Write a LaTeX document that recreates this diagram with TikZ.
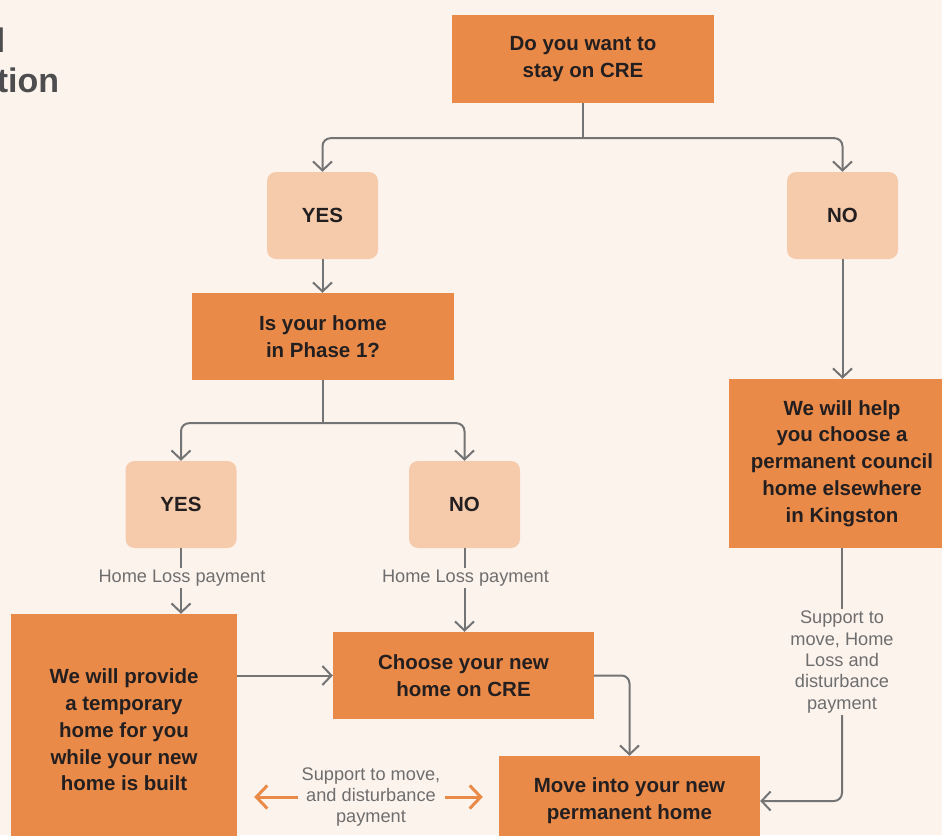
\documentclass[tikz,border=0pt]{standalone}
\usepackage{fontspec}
\setmainfont{Liberation Sans}
\usepackage{tikz}
\usetikzlibrary{arrows.meta}
\usepackage{xcolor}
\definecolor{bgpeach}{HTML}{FCF3ED}
\definecolor{boxorange}{HTML}{E98A48}
\definecolor{boxlight}{HTML}{F6CBAC}
\definecolor{linegray}{HTML}{747474}
\definecolor{labelgray}{HTML}{6E6E6E}
\definecolor{textdark}{HTML}{231F20}
\definecolor{titlegray}{HTML}{4D4D4F}

\begin{document}
\begin{tikzpicture}[x=1pt, y=-1pt,
  question/.style={fill=boxorange, text=textdark, inner sep=0pt, align=center,
    font=\bfseries\fontsize{20.5}{26.8}\selectfont},
  answer/.style={fill=boxlight, text=textdark, rounded corners=9pt, inner sep=0pt,
    minimum width=111pt, minimum height=87pt, font=\bfseries\fontsize{20.5}{26.8}\selectfont},
  note/.style={text=labelgray, align=center, inner sep=2pt,
    font=\fontsize{18.2}{21.3}\selectfont},
  stem/.style={draw=linegray, line width=2pt},
  flow/.style={stem, rounded corners=8pt, -{Straight Barb[length=9pt, width=19pt]}},
  support/.style={draw=boxorange, line width=3pt, -{Straight Barb[length=11pt, width=23pt]}},
  heading/.style={text=titlegray, inner sep=0pt, font=\bfseries\fontsize{34}{40}\selectfont}]

  % Page and background
  \path[use as bounding box] (0,0) rectangle (942,835);
  \clip (0,0) rectangle (942,835);
  \fill[bgpeach] (0,0) rectangle (942,835);

  % Cut-off heading
  \node[heading, anchor=base east] (headA) at (5.4,52) {l};
  \node[heading, anchor=base east] (headB) at (59.4,92) {tion};

  % Questions and answers
  \node[question, minimum width=262pt, minimum height=88pt] (stay) at (583,59) {Do you want to\\stay on CRE};
  \node[answer] (yesA) at (322.5,215.5) {YES};
  \node[answer] (noA) at (842.5,215.5) {NO};
  \node[question, minimum width=262pt, minimum height=87pt] (phase) at (323,336.5) {Is your home\\in Phase 1?};
  \node[answer] (yesB) at (181,504.5) {YES};
  \node[answer] (noB) at (464.5,504.5) {NO};

  % Outcomes
  \node[question, minimum width=226pt, minimum height=169pt] (help) at (842,463.5)
    {We will help\\you choose a\\permanent council\\home elsewhere\\in Kingston};
  \node[question, minimum width=226pt, minimum height=232pt] (provide) at (124,730)
    {We will provide\\a temporary\\home for you\\while your new\\home is built};
  \node[question, minimum width=261pt, minimum height=87pt] (choose) at (463.5,675.5) {Choose your new\\home on CRE};
  \node[question, minimum width=261pt, minimum height=90pt] (move) at (629.5,801) {Move into your new\\permanent home};

  % Payment notes
  \node[note] (lossA) at (182,578) {Home Loss payment};
  \node[note] (lossB) at (465.5,578) {Home Loss payment};
  \node[note] (supportB) at (842,662) {Support to\\move, Home\\Loss and\\disturbance\\payment};
  \node[note, inner sep=4pt] (supportA) at (371,797) {Support to move,\\and disturbance\\payment};

  % First split
  \draw[stem] (stay.south) -- ++(0,35) coordinate (forkA);
  \draw[flow] (forkA) -| (yesA.north);
  \draw[flow] (forkA) -| (noA.north);
  \draw[flow] (yesA.south) -- (yesA.south |- phase.north);
  \draw[flow] (noA.south) -- (noA.south |- help.north);

  % Second split
  \draw[stem] (phase.south) -- ++(0,43) coordinate (forkB);
  \draw[flow] (forkB) -| (yesB.north);
  \draw[flow] (forkB) -| (noB.north);

  % Home Loss payment links
  \draw[stem] (yesB.south) -- (yesB.south |- lossA.north);
  \draw[flow] (yesB.south |- lossA.south) -- (yesB.south |- provide.north);
  \draw[stem] (noB.south) -- (noB.south |- lossB.north);
  \draw[flow] (noB.south |- lossB.south) -- (noB.south |- choose.north);

  % Towards the permanent home
  \draw[flow] (provide.east |- choose.west) -- (choose.west);
  \draw[flow] (choose.east) -| (move.north);
  \draw[stem] (help) -- (supportB);
  \draw[flow] (supportB.south) |- (move.east);

  % Orange support arrows
  \draw[support, shorten >=17pt] (supportA.west) -- (provide.east |- supportA.west);
  \draw[support, shorten >=16pt] (supportA.east) -- (move.west |- supportA.east);
\end{tikzpicture}
\end{document}
